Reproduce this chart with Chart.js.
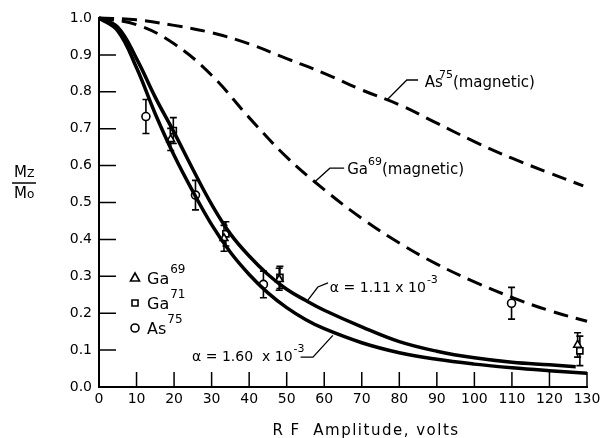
<!DOCTYPE html>
<html>
<head>
<meta charset="utf-8">
<script src="https://cdn.jsdelivr.net/npm/chart.js@4"></script>
<style>
  body { margin: 0; background: #fff; }
  canvas { display: block; }
</style>
</head>
<body>
<canvas id="chart" width="606" height="438"></canvas>
<script>
// curves (x = RF amplitude in volts, y = Mz/Mo)
const as75MagX = [0, 10, 20, 30, 40, 50, 60, 70, 80, 90, 100, 110, 120, 129];
const as75MagY = [1.0, 0.995, 0.98, 0.96, 0.93, 0.89, 0.85, 0.805, 0.765, 0.715, 0.665, 0.62, 0.58, 0.545];

const ga69MagX = [0, 10, 20, 30, 40, 50, 60, 70, 80, 90, 100, 110, 120, 130, 132];
const ga69MagY = [1.0, 0.982, 0.93, 0.845, 0.73, 0.623, 0.535, 0.457, 0.39, 0.333, 0.285, 0.243, 0.207, 0.178, 0.173];

const alpha111X = [0, 5, 10, 15, 20, 25, 30, 35, 40, 45, 50, 55, 60, 70, 80, 90, 100, 110, 120, 127];
const alpha111Y = [1.0, 0.975, 0.89, 0.785, 0.69, 0.59, 0.495, 0.415, 0.355, 0.305, 0.265, 0.235, 0.208, 0.163, 0.123, 0.097, 0.079, 0.067, 0.06, 0.055];

const alpha160X = [0, 5, 10, 15, 20, 25, 30, 35, 40, 45, 50, 55, 60, 70, 80, 90, 100, 110, 120, 130];
const alpha160Y = [1.0, 0.965, 0.865, 0.74, 0.628, 0.53, 0.44, 0.365, 0.305, 0.255, 0.215, 0.183, 0.158, 0.12, 0.093, 0.075, 0.062, 0.052, 0.044, 0.037];

// measured points with error bar half-heights
const ga69X = [19.1, 33.3, 48.0, 127.5];
const ga69Y = [0.671, 0.403, 0.292, 0.114];
const ga69Err = [0.03, 0.035, 0.03, 0.033];

const ga71X = [19.8, 33.8, 48.2, 128.1];
const ga71Y = [0.695, 0.415, 0.297, 0.098];
const ga71Err = [0.035, 0.033, 0.03, 0.04];

const as75X = [12.5, 25.7, 43.8, 109.9];
const as75Y = [0.733, 0.52, 0.278, 0.227];
const as75Err = [0.046, 0.04, 0.036, 0.043];

const xTickValues = [10, 20, 30, 40, 50, 60, 70, 80, 90, 100, 110, 120, 130];
const yTickValues = [0.1, 0.2, 0.3, 0.4, 0.5, 0.6, 0.7, 0.8, 0.9];

const FONT = '"DejaVu Sans", sans-serif';

function pts(xs, ys) {
    return xs.map((x, i) => ({ x: x, y: ys[i] }));
}

function curve(xs, ys, dashed) {
    return {
        data: pts(xs, ys),
        showLine: true,
        borderColor: '#000',
        borderWidth: dashed ? 3 : 3.5,
        borderDash: dashed ? [15, 8] : [],
        pointRadius: 0,
        tension: 0.4,
        clip: false
    };
}

function markers(xs, ys, style, r) {
    return {
        data: pts(xs, ys),
        showLine: false,
        pointStyle: style,
        pointRadius: r,
        pointBackgroundColor: '#fff',
        pointBorderColor: '#000',
        pointBorderWidth: 1.6
    };
}

// draws text pieces, superscripts shifted up in a smaller size
function richText(ctx, x, y, parts) {
    parts.forEach(p => {
        ctx.font = (p.size || 15) + 'px ' + FONT;
        const dx = p.dx || 0;
        ctx.fillText(p.t, x + dx, y + (p.dy || 0));
        x += dx + ctx.measureText(p.t).width;
    });
}

function marker(ctx, style, cx, cy) {
    ctx.save();
    ctx.lineWidth = 1.6;
    ctx.strokeStyle = '#000';
    ctx.fillStyle = '#fff';
    ctx.beginPath();
    if (style === 'triangle') {
        ctx.moveTo(cx, cy - 5);
        ctx.lineTo(cx + 4.5, cy + 3);
        ctx.lineTo(cx - 4.5, cy + 3);
        ctx.closePath();
    } else if (style === 'rect') {
        ctx.rect(cx - 3, cy - 3, 6, 6);
    } else {
        ctx.arc(cx, cy, 4, 0, Math.PI * 2);
    }
    ctx.fill();
    ctx.stroke();
    ctx.restore();
}

const decor = {
    id: 'decor',
    beforeDatasetsDraw(chart) {
        const { ctx, scales: { x, y } } = chart;
        ctx.save();
        ctx.strokeStyle = '#000';
        ctx.lineWidth = 1.6;
        const bars = (xs, ys, es) => xs.forEach((v, i) => {
            const px = x.getPixelForValue(v);
            const top = y.getPixelForValue(ys[i] + es[i]);
            const bot = y.getPixelForValue(ys[i] - es[i]);
            ctx.beginPath();
            ctx.moveTo(px, top); ctx.lineTo(px, bot);
            ctx.moveTo(px - 3.5, top); ctx.lineTo(px + 3.5, top);
            ctx.moveTo(px - 3.5, bot); ctx.lineTo(px + 3.5, bot);
            ctx.stroke();
        });
        bars(ga69X, ga69Y, ga69Err);
        bars(ga71X, ga71Y, ga71Err);
        bars(as75X, as75Y, as75Err);
        ctx.restore();
    },
    afterDraw(chart) {
        const { ctx, chartArea: a, scales: { x, y } } = chart;
        const X = v => x.getPixelForValue(v);
        const Y = v => y.getPixelForValue(v);
        ctx.save();
        ctx.strokeStyle = '#000';
        ctx.fillStyle = '#000';

        // inward tick marks
        ctx.lineWidth = 1.5;
        ctx.beginPath();
        xTickValues.forEach(v => { ctx.moveTo(X(v), a.bottom); ctx.lineTo(X(v), a.bottom - 15); });
        yTickValues.forEach(v => { ctx.moveTo(a.left, Y(v)); ctx.lineTo(a.left + 17, Y(v)); });
        ctx.stroke();

        // leader lines
        ctx.lineWidth = 1.3;
        const leader = list => {
            ctx.beginPath();
            list.forEach((p, i) => i ? ctx.lineTo(X(p[0]), Y(p[1])) : ctx.moveTo(X(p[0]), Y(p[1])));
            ctx.stroke();
        };
        leader([[76.7, 0.778], [82.0, 0.832], [85.0, 0.832]]);
        leader([[57.5, 0.556], [61.5, 0.593], [65.3, 0.593]]);
        leader([[55.7, 0.236], [58.3, 0.271], [61.0, 0.282]]);
        leader([[53.7, 0.081], [57.0, 0.081], [62.3, 0.14]]);

        ctx.textBaseline = 'alphabetic';
        ctx.textAlign = 'left';
        richText(ctx, X(86.8), Y(0.813), [{ t: 'As' }, { t: '75', size: 11, dy: -9, dx: -4 }, { t: '(magnetic)' }]);
        richText(ctx, X(66.1), Y(0.577), [{ t: 'Ga' }, { t: '69', size: 11, dy: -9 }, { t: '(magnetic)' }]);
        richText(ctx, X(61.5), Y(0.257), [{ t: 'α = 1.11 x 10', size: 14 }, { t: '-3', size: 11, dy: -9, dx: 1 }]);
        richText(ctx, X(24.8), Y(0.0705), [{ t: 'α = 1.60  x 10', size: 14 }, { t: '-3', size: 11, dy: -9, dx: 1 }]);

        // legend
        marker(ctx, 'triangle', 135, 278);
        richText(ctx, 147, 284, [{ t: 'Ga', size: 16 }, { t: '69', size: 12, dy: -11, dx: 1 }]);
        marker(ctx, 'rect', 135, 303);
        richText(ctx, 147, 309, [{ t: 'Ga', size: 16 }, { t: '71', size: 12, dy: -11, dx: 1 }]);
        marker(ctx, 'circle', 135, 328);
        richText(ctx, 147, 334, [{ t: 'As', size: 16 }, { t: '75', size: 12, dy: -11, dx: 1 }]);

        // y-axis label Mz / Mo
        richText(ctx, 14, 177, [{ t: 'M', size: 15 }, { t: 'Z', size: 11 }]);
        ctx.lineWidth = 1.5;
        ctx.beginPath(); ctx.moveTo(12, 183); ctx.lineTo(36, 183); ctx.stroke();
        richText(ctx, 14, 198, [{ t: 'M', size: 15 }, { t: 'o', size: 12 }]);

        // x-axis title
        ctx.font = '15px ' + FONT;
        ctx.textAlign = 'center';
        ctx.letterSpacing = '1.5px';
        ctx.fillText('R F  Amplitude, volts', 366, 435);
        ctx.restore();
    }
};

new Chart(document.getElementById('chart').getContext('2d'), {
    type: 'scatter',
    data: {
        datasets: [
            curve(as75MagX, as75MagY, true),
            curve(ga69MagX, ga69MagY, true),
            curve(alpha111X, alpha111Y, false),
            curve(alpha160X, alpha160Y, false),
            markers(ga69X, ga69Y, 'triangle', 4.5),
            markers(ga71X, ga71Y, 'rect', 4.3),
            markers(as75X, as75Y, 'circle', 4)
        ]
    },
    options: {
        responsive: false,
        animation: false,
        devicePixelRatio: 1,
        layout: { padding: { left: 0, right: 19, top: 18, bottom: 0 } },
        plugins: { legend: { display: false }, tooltip: { enabled: false } },
        scales: {
            x: {
                type: 'linear', min: 0, max: 130,
                afterFit: s => { s.height = 51; },
                grid: { display: false, drawTicks: false },
                border: { display: true, color: '#000', width: 2 },
                ticks: { stepSize: 10, padding: 4, color: '#000', maxRotation: 0, autoSkip: false,
                         font: { family: FONT, size: 14 } }
            },
            y: {
                type: 'linear', min: 0, max: 1,
                afterFit: s => { s.width = 99; },
                grid: { display: false, drawTicks: false },
                border: { display: true, color: '#000', width: 2 },
                ticks: { stepSize: 0.1, padding: 7, color: '#000',
                         callback: v => v.toFixed(1),
                         font: { family: FONT, size: 14 } }
            }
        }
    },
    plugins: [decor]
});
</script>
</body>
</html>
